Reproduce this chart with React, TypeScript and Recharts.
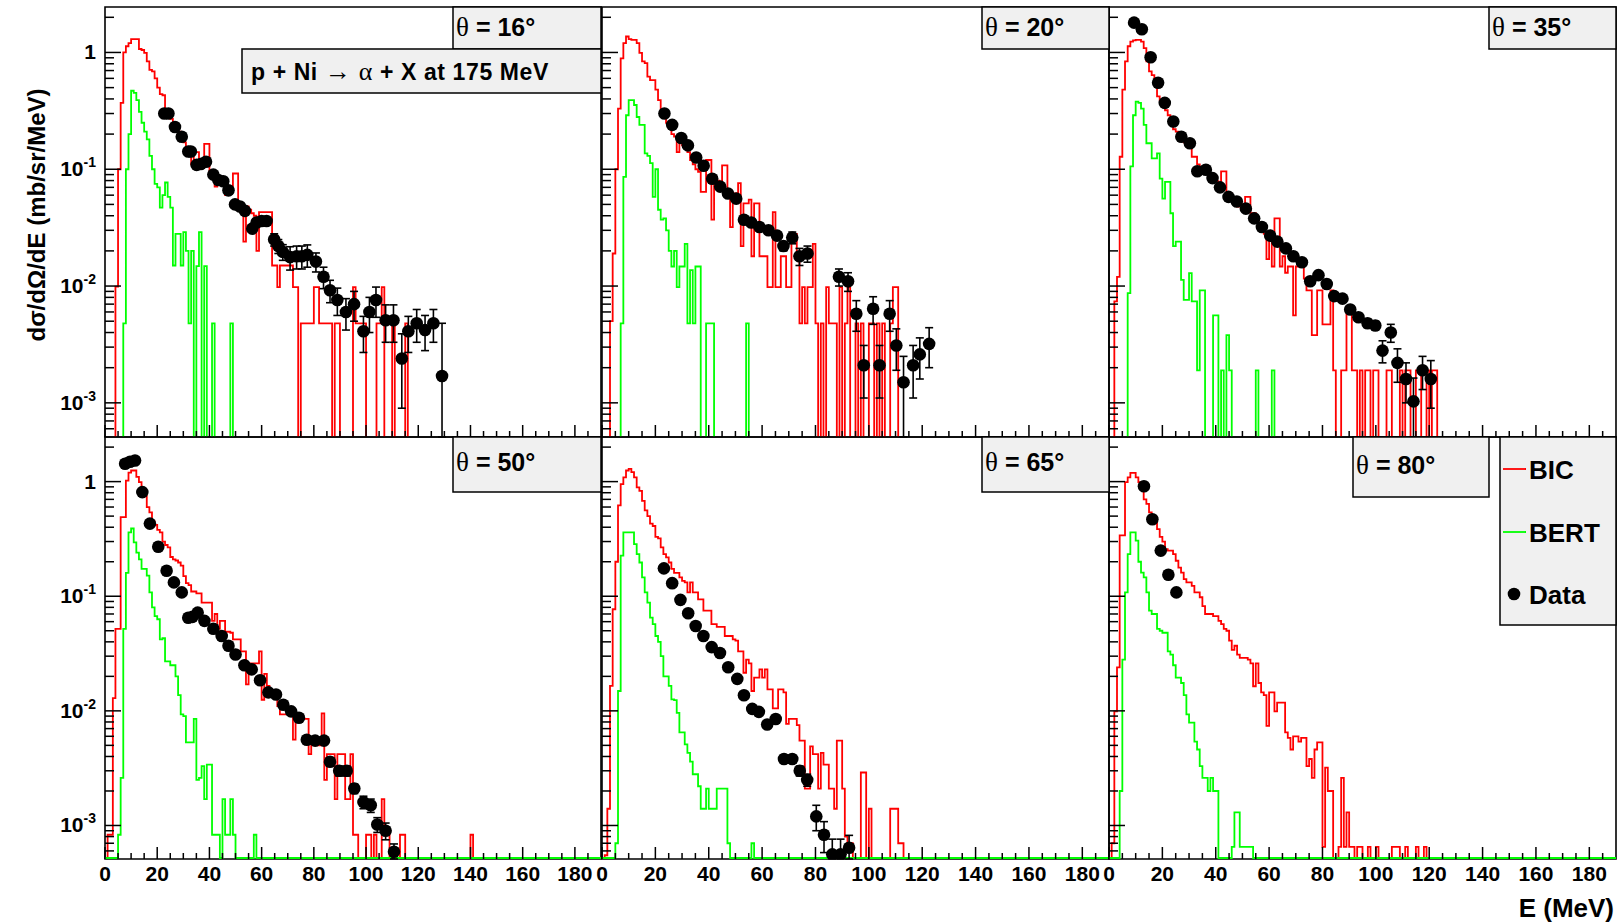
import React from 'react';
import { ComposedChart, Line, Scatter, XAxis, YAxis, ErrorBar, ReferenceArea } from 'recharts';

// ---------- axis ranges & ticks ----------
const YMIN = 5.1e-4;
const YMAX = 2.45;
const XMAX = 190;
const X_TICKS = [0,5,10,15,20,25,30,35,40,45,50,55,60,65,70,75,80,85,90,95,100,105,110,115,120,125,130,135,140,145,150,155,160,165,170,175,180,185];
const X_LABELS = [0,20,40,60,80,100,120,140,160,180];
const Y_TICKS = [0.0006,0.0007,0.0008,0.0009,0.001,0.002,0.003,0.004,0.005,0.006,0.007,0.008,0.009,0.01,0.02,0.03,0.04,0.05,0.06,0.07,0.08,0.09,0.1,0.2,0.3,0.4,0.5,0.6,0.7,0.8,0.9,1,2];
const Y_MAJOR = [0.001, 0.01, 0.1, 1];
const Y_MAJOR_EXP = ['-3', '-2', '-1', ''];

// ---------- histograms: value per 1 MeV bin starting at E = 0 ----------
const BIC_16 = [
  0,0,0,0,0.0099,0.1,0.37,1.0,1.13,1.2,
  1.3,1.3,1.3,1.07,1.05,0.99,0.84,0.71,0.69,0.6,
  0.5,0.44,0.43,0.32,0.3,0.27,0.25,0.22,0.21,0.19,
  0.17,0.155,0.13,0.11,0.14,0.14,0.11,0.12,0.165,0.165,
  0.093,0.093,0.071,0.075,0.075,0.072,0.06,0.066,0.066,0.092,
  0.092,0.05,0.048,0.024,0.048,0.045,0.042,0.04,0.02,0.043,
  0.043,0.043,0.043,0.043,0.015,0.015,0.0098,0.015,0.015,0.015,
  0.015,0.015,0.0098,0.0098,0,0.0048,0.0048,0.0048,0.0048,0.0048,
  0.0098,0.0098,0.0048,0.0048,0.0048,0.0048,0.0048,0,0.0048,0.0048,
  0,0,0,0,0,0.0098,0.0048,0.0048,0.0048,0.0048,
  0,0,0,0,0.0048,0.0048,0.0098,0,0,0,
  0.0048,0,0,0,0,0.0048,
];
const BERT_16 = [
  0,0,0,0,0,0,0,0.0048,0.1,0.2,
  0.47,0.45,0.39,0.31,0.25,0.21,0.18,0.13,0.1,0.075,
  0.07,0.047,0.06,0.077,0.058,0.047,0.015,0.028,0.028,0.015,
  0.029,0.02,0.0048,0.02,0,0.0148,0.029,0,0.0148,0,
  0,0.0048,0,0,0,0,0,0,0.0048,
];
const BIC_20 = [
  0,0,0,0.005,0.019,0.1,0.33,0.89,1.2,1.37,
  1.3,1.28,1.28,1.2,0.99,0.84,0.81,0.62,0.58,0.58,
  0.48,0.39,0.3,0.29,0.25,0.24,0.2,0.19,0.14,0.185,
  0.16,0.15,0.14,0.12,0.11,0.1,0.095,0.064,0.064,0.12,
  0.12,0.037,0.085,0.08,0.077,0.108,0.108,0.06,0.032,0.062,
  0.062,0.076,0.022,0.051,0.051,0.055,0.018,0.051,0.051,0.018,
  0.018,0.018,0.0098,0.0098,0.043,0.0098,0.0098,0.018,0.018,0.0098,
  0.0098,0.028,0.028,0.018,0.0048,0.0098,0.0048,0.0098,0.0098,0.023,
  0.0048,0,0.0048,0,0.0098,0.0048,0.0048,0.0048,0,0.0098,
  0,0.0048,0.0098,0,0,0.0048,0,0.0048,0,0,
  0.0048,0.0048,0,0.0048,0,0.0048,0,0,0.0048,0.0098,
  0.0098,
];
const BERT_20 = [
  0,0,0,0,0,0,0,0.0048,0.086,0.29,
  0.39,0.39,0.355,0.28,0.24,0.24,0.137,0.13,0.113,0.058,
  0.1,0.045,0.037,0.038,0.03,0.02,0.0147,0.02,0.0098,0.0147,
  0.0147,0.023,0.0048,0.0137,0.0048,0.0147,0.0147,0,0,0.0048,
  0.0048,0.0048,0,0,0,0,0,0,0,0,
  0,0,0,0,0.0048,
];
const BIC_35 = [
  0,0,0.0074,0.012,0.128,0.48,0.84,1.13,1.24,1.27,
  1.28,1.28,1.24,1.09,0.84,0.69,0.64,0.53,0.42,0.39,
  0.34,0.32,0.29,0.25,0.22,0.21,0.2,0.18,0.17,0.17,
  0.157,0.128,0.128,0.11,0.102,0.102,0.093,0.093,0.081,0.079,
  0.079,0.07,0.096,0.096,0.062,0.062,0.055,0.055,0.048,0.05,
  0.05,0.058,0.058,0.042,0.042,0.039,0.034,0.03,0.028,0.017,
  0.025,0.0147,0.038,0.038,0.0147,0.018,0.013,0.0147,0.0147,0.0056,
  0.0147,0.0147,0.0147,0.0116,0.0092,0.0092,0.0038,0.0038,0.0092,0.0092,
  0.0047,0.0047,0.0047,0.0092,0.0019,0,0,0.0019,0.0019,0.0058,
  0.0058,0.0019,0.0019,0,0.0019,0,0.0019,0.0019,0,0.0019,
  0.0019,0,0,0,0.0019,0.0019,0,0,0,0.0019,
  0,0.0019,0.0019,0,0,0.0019,0.0019,0,0,0.0019,
  0,0.0019,0.0019,
];
const BERT_35 = [
  0,0,0,0,0,0,0,0.0087,0.106,0.29,
  0.38,0.37,0.33,0.24,0.167,0.167,0.124,0.124,0.137,0.083,
  0.056,0.078,0.078,0.042,0.022,0.024,0.024,0.0113,0.0076,0.0076,
  0.0129,0.0074,0.0074,0.0019,0.0092,0.0092,0,0,0,0.0056,
  0.0056,0,0.0019,0,0.0038,0.0019,0,0,0,0,
  0,0,0,0,0,0.0019,0,0,0,0,
  0,0.0019,
];
const BIC_50 = [
  0,0.00083,0.00083,0.0129,0.052,0.052,0.49,0.49,1.02,1.2,
  1.25,1.25,1.1,0.99,0.78,0.75,0.6,0.54,0.45,0.42,
  0.38,0.36,0.3,0.28,0.267,0.22,0.21,0.205,0.197,0.185,
  0.15,0.13,0.125,0.11,0.11,0.106,0.106,0.088,0.088,0.088,
  0.088,0.061,0.07,0.052,0.061,0.061,0.049,0.049,0.048,0.042,
  0.042,0.042,0.033,0.033,0.017,0.026,0.026,0.026,0.026,0.033,
  0.0125,0.021,0.0165,0.0137,0.0137,0.0137,0.011,0.0093,0.0093,0.0093,
  0.0093,0.0093,0.0056,0.0093,0.009,0.009,0.0085,0.0085,0.0042,0.0057,
  0.0057,0.005,0.005,0.0095,0.0025,0.0042,0.0042,0.0042,0.0017,0.0042,
  0.0042,0.0042,0.0017,0.0017,0.0042,0.00083,0.00083,0,0,0,
  0.00083,0.00083,0,0.00083,0,0,0.0017,0.00083,0.00083,0,
  0,0,0,0.00083,0.00083,0,0,0,0,0,
  0,0,0,0,0,0,0,0,0,0,
  0,0,0,0,0,0,0,0,0,0,
  0.00083,
];
const BERT_50 = [
  0,0,0,0,0,0.00083,0.0026,0.052,0.16,0.36,
  0.39,0.295,0.24,0.21,0.173,0.173,0.151,0.108,0.08,0.067,
  0.063,0.042,0.043,0.027,0.027,0.025,0.025,0.02,0.0137,0.0093,
  0.009,0.0053,0.0053,0.0053,0.0085,0.0025,0.0026,0.0033,0.0017,0.0034,
  0.0034,0.00083,0.00083,0.00083,0,0.0017,0.00083,0.00083,0.0017,0.00083,
  0,0,0,0,0,0,0,0.00083,
];
const BIC_65 = [
  0,0.00055,0.0014,0.0165,0.077,0.2,0.62,0.95,1.09,1.25,
  1.29,1.21,1.09,0.89,0.83,0.68,0.56,0.5,0.43,0.41,
  0.33,0.32,0.267,0.233,0.218,0.197,0.173,0.16,0.16,0.146,
  0.136,0.132,0.108,0.132,0.108,0.108,0.094,0.094,0.075,0.075,
  0.075,0.057,0.057,0.054,0.054,0.054,0.045,0.045,0.045,0.042,
  0.041,0.033,0.033,0.0215,0.028,0.026,0.0149,0.0195,0.0195,0.023,
  0.0195,0.023,0.0154,0.0154,0.0105,0.0105,0.0154,0.0154,0.0145,0.0077,
  0.0085,0.0085,0.0085,0.0075,0.0055,0.0055,0.0021,0.0021,0.0049,0.0042,
  0.0042,0.0021,0.0043,0.0034,0.0034,0.0021,0.0021,0.0014,0.0055,0.0055,
  0.0021,0.0008,0.0007,0.0007,0,0,0,0.0029,0.0029,0,
  0.0014,0,0,0,0,0,0,0,0.0014,0.0014,
  0.0014,0.0007,0.0007,
];
const BERT_65 = [
  0,0,0,0,0,0.0007,0.0149,0.226,0.36,0.36,
  0.36,0.36,0.285,0.233,0.197,0.146,0.108,0.088,0.065,0.057,
  0.045,0.04,0.03,0.02,0.02,0.0165,0.0126,0.0124,0.0096,0.0065,
  0.0065,0.0051,0.0043,0.0036,0.0028,0.0028,0.0022,0.0014,0.0014,0.0021,
  0.0014,0.0014,0.0014,0.0021,0.0021,0.0021,0.0021,0.0007,0,0,
  0,0,0,0,0,0,0.0007,
];
const BIC_80 = [
  0,0.0007,0.0099,0.024,0.34,0.34,0.99,1.09,1.19,1.19,
  1.09,0.99,0.86,0.7,0.64,0.54,0.5,0.46,0.385,0.33,
  0.3,0.258,0.25,0.25,0.233,0.204,0.178,0.161,0.141,0.132,
  0.132,0.123,0.108,0.108,0.098,0.082,0.07,0.07,0.07,0.067,
  0.067,0.061,0.057,0.052,0.05,0.041,0.034,0.037,0.031,0.029,
  0.029,0.029,0.028,0.026,0.0164,0.026,0.0175,0.0145,0.0137,0.0074,
  0.0145,0.0145,0.0099,0.0118,0.0118,0.0118,0.0065,0.0058,0.0046,0.006,
  0.006,0.0054,0.0058,0.0058,0.0033,0.0038,0.0026,0.0046,0.0053,0.0053,
  0.00065,0.0032,0.002,0.002,0,0,0.00065,0.0026,0.00065,0.0013,
  0.00065,0.00065,0,0.00065,0.00065,0,0,0.00065,0,0,
  0.00065,0,0,0,0,0,0.00065,0.00065,0.00065,0,
  0,0.00065,0,0,0,0.00065,0,0,0.00065,
];
const BERT_80 = [
  0,0,0,0,0.002,0.028,0.108,0.233,0.36,0.36,
  0.305,0.2,0.161,0.146,0.108,0.075,0.07,0.07,0.052,0.05,
  0.048,0.048,0.033,0.031,0.025,0.0195,0.0195,0.0175,0.0137,0.0093,
  0.0079,0.0079,0.0054,0.0046,0.0033,0.0026,0.0026,0.002,0.0026,0.002,
  0.002,0,0,0,0,0,0.00065,0.0013,0.0013,0.00065,
  0.00065,0.00065,0.00065,0.00065,
];

// ---------- measured data: energy, cross section, uncertainty ----------
const DATA16_E = [22.7,24.3,26.8,29.4,31.9,32.9,35.1,36.7,38.7,41.5,43.4,45.3,47.3,49.8,51.7,53.6,56.4,58.1,60.0,61.9,64.8,66.4,68.1,70.9,73.4,75.4,77.5,80.8,83.7,86.2,89.0,92.3,95.4,99.0,101.3,103.8,107.5,110.5,113.7,116.2,119.4,122.6,125.8,129.1];
const DATA16_V = [0.30,0.30,0.23,0.19,0.142,0.142,0.109,0.111,0.116,0.09,0.081,0.079,0.066,0.05,0.048,0.044,0.031,0.035,0.036,0.036,0.025,0.022,0.0196,0.0177,0.018,0.018,0.0185,0.0162,0.012,0.0092,0.0076,0.006,0.007,0.0041,0.006,0.0076,0.0051,0.0051,0.0024,0.0041,0.0048,0.0042,0.0048,0.0017];
const DATA16_ERR = [0.012,0.012,0.009,0.008,0.006,0.006,0.004,0.004,0.005,0.004,0.0035,0.0035,0.003,0.0025,0.0025,0.0025,0.002,0.002,0.0025,0.0025,0.003,0.003,0.003,0.004,0.004,0.004,0.004,0.003,0.0025,0.002,0.002,0.0018,0.002,0.0014,0.002,0.0022,0.0018,0.0018,0.0015,0.0014,0.0015,0.0014,0.0015,0.0031];

const DATA20_E = [23.4,26.3,29.7,32.2,35.3,38.1,41.3,44.3,47.2,50.3,53.2,55.9,59.0,62.4,65.6,68.0,71.3,74.0,77.0,88.8,92.2,95.3,98.1,101.6,104.0,107.8,110.3,113.0,116.6,119.1,122.6];
const DATA20_V = [0.30,0.24,0.185,0.16,0.126,0.107,0.083,0.071,0.062,0.056,0.037,0.035,0.032,0.030,0.027,0.022,0.026,0.018,0.019,0.012,0.011,0.0058,0.0021,0.0064,0.0021,0.0058,0.0031,0.0015,0.0021,0.0026,0.0032];
const DATA20_ERR = [0.012,0.01,0.007,0.006,0.005,0.004,0.003,0.003,0.0025,0.0025,0.002,0.002,0.002,0.002,0.002,0.002,0.003,0.003,0.003,0.002,0.002,0.0017,0.001,0.0017,0.001,0.0017,0.0012,0.001,0.001,0.001,0.0012];

const DATA35_E = [9.4,12.3,15.6,18.4,20.9,24.1,27.1,30.3,33.1,36.3,38.8,41.6,44.8,47.9,51.3,54.4,57.3,60.4,63.1,66.3,69.1,72.3,75.4,78.5,81.6,84.4,87.5,90.4,93.5,96.9,99.8,102.5,105.6,108.1,111.3,114.1,117.5,120.6];
const DATA35_V = [1.8,1.58,0.91,0.55,0.37,0.256,0.19,0.167,0.096,0.099,0.084,0.07,0.058,0.053,0.046,0.038,0.032,0.027,0.024,0.021,0.018,0.016,0.011,0.0124,0.0104,0.0082,0.0078,0.0063,0.0054,0.0048,0.0046,0.0028,0.004,0.0022,0.0016,0.00103,0.0019,0.0016];
const DATA35_ERR = [0.07,0.06,0.035,0.02,0.014,0.01,0.007,0.006,0.004,0.004,0.003,0.003,0.0025,0.002,0.002,0.0015,0.0013,0.0011,0.001,0.0009,0.0008,0.0007,0.0005,0.0006,0.0005,0.0004,0.0004,0.0004,0.0004,0.0004,0.0004,0.0006,0.0007,0.0007,0.0006,0.0006,0.0006,0.0007];

const DATA50_E = [7.7,9.6,11.5,14.3,17.2,20.4,23.6,26.4,29.4,31.9,33.5,35.5,38.1,41.5,44.7,47.3,50.0,53.4,56.2,59.4,62.6,65.5,68.3,71.3,74.3,77.3,80.5,83.9,86.2,89.7,92.6,95.5,99.0,101.8,104.3,107.5,110.7];
const DATA50_V = [1.43,1.49,1.53,0.81,0.43,0.27,0.167,0.132,0.108,0.065,0.066,0.072,0.061,0.052,0.045,0.037,0.031,0.025,0.023,0.0185,0.0145,0.0139,0.0113,0.0099,0.0087,0.0056,0.0055,0.0055,0.0036,0.003,0.003,0.0021,0.0016,0.0015,0.00102,0.0009,0.00059];
const DATA50_ERR = [0.06,0.06,0.06,0.03,0.017,0.011,0.007,0.005,0.004,0.0026,0.0026,0.003,0.0025,0.002,0.0018,0.0015,0.0012,0.001,0.0009,0.0007,0.0006,0.0006,0.0005,0.0004,0.0004,0.0003,0.0003,0.0003,0.0003,0.0003,0.0003,0.0002,0.0002,0.0002,0.00015,0.00015,0.0001];

const DATA65_E = [23.2,26.3,29.4,32.3,35.1,38.0,41.1,44.2,47.3,50.7,53.2,56.3,58.8,61.9,65.1,68.2,71.3,74.1,76.9,80.3,83.2,86.3,89.4,92.6];
const DATA65_V = [0.175,0.13,0.093,0.071,0.055,0.045,0.036,0.032,0.024,0.019,0.0137,0.0104,0.0098,0.0076,0.0085,0.0038,0.0038,0.003,0.0025,0.0012,0.00083,0.00056,0.00056,0.00064];
const DATA65_ERR = [0.007,0.005,0.004,0.003,0.0022,0.0018,0.0015,0.0013,0.001,0.0008,0.0006,0.0005,0.0004,0.0004,0.0004,0.0003,0.0003,0.0003,0.0003,0.0003,0.00025,0.0002,0.0002,0.00018];

const DATA80_E = [13.1,16.25,19.4,22.25,25.25];
const DATA80_V = [0.91,0.47,0.25,0.154,0.108];
const DATA80_ERR = [0.04,0.02,0.01,0.006,0.004];

const ANGLES = ['16', '20', '35', '50', '65', '80'];
const SERIES_NAMES = ['BIC', 'BERT', 'Data'];
const REACTION = ['p + Ni', '\u2192', '\u03b1', '+ X at 175 MeV'];

// ---------- layout ----------
const FONT = "'Liberation Sans', Arial, Helvetica, sans-serif";
const SYM = "'Liberation Serif', 'DejaVu Serif', serif";
const RED = '#ff0000';
const GREEN = '#00ff00';
const COL_X = [105, 602, 1109];
const COL_W = [496, 507, 507];
const ROW_Y = [7, 437];
const ROW_H = [430, 422];
const PADL = 100, PADT = 10, PADR = 10, PADB = 60;

const PANELS = [
  { row: 0, col: 0, bic: BIC_16, bert: BERT_16, e: DATA16_E, v: DATA16_V, err: DATA16_ERR },
  { row: 0, col: 1, bic: BIC_20, bert: BERT_20, e: DATA20_E, v: DATA20_V, err: DATA20_ERR },
  { row: 0, col: 2, bic: BIC_35, bert: BERT_35, e: DATA35_E, v: DATA35_V, err: DATA35_ERR },
  { row: 1, col: 0, bic: BIC_50, bert: BERT_50, e: DATA50_E, v: DATA50_V, err: DATA50_ERR },
  { row: 1, col: 1, bic: BIC_65, bert: BERT_65, e: DATA65_E, v: DATA65_V, err: DATA65_ERR },
  { row: 1, col: 2, bic: BIC_80, bert: BERT_80, e: DATA80_E, v: DATA80_V, err: DATA80_ERR },
];

const ANGLE_BOXES = [
  { x: 453, y: 7, w: 148, h: 42, ty: 36 },
  { x: 982, y: 7, w: 127, h: 42, ty: 36 },
  { x: 1489, y: 7, w: 127, h: 42, ty: 36 },
  { x: 453, y: 437, w: 148, h: 55, ty: 471 },
  { x: 982, y: 437, w: 127, h: 55, ty: 471 },
  { x: 1353, y: 437, w: 136, h: 60, ty: 474 },
];

function toSteps(bins: number[], zero: number) {
  const out: { x: number; y: number }[] = [];
  for (let i = 0; i < XMAX; i++) {
    const v = i < bins.length ? bins[i] : 0;
    out.push({ x: i, y: v > 0 ? v : zero });
  }
  out.push({ x: XMAX, y: out[out.length - 1].y });
  return out;
}

function toPoints(e: number[], v: number[], err: number[]) {
  return e.map((x, i) => {
    const lo = Math.min(err[i], v[i] - YMIN * 1.001);
    return { x, y: v[i], err: [lo, err[i]] };
  });
}

function makeXTick(plotBottom: number, showLabels: boolean) {
  return (props: any) => {
    const { x, payload } = props;
    const val = payload.value;
    const major = val % 20 === 0;
    const len = major ? 12 : 6;
    return (
      <g>
        <line x1={x} x2={x} y1={plotBottom} y2={plotBottom - len} stroke="#000" strokeWidth={1.5} />
        {showLabels && X_LABELS.indexOf(val) >= 0 ? (
          <text x={x} y={plotBottom + 22} textAnchor="middle" fontFamily={FONT} fontWeight="bold" fontSize={21} fill="#000">
            {String(val)}
          </text>
        ) : null}
      </g>
    );
  };
}

function makeYTick(plotLeft: number, showLabels: boolean) {
  return (props: any) => {
    const { y, payload } = props;
    const val = payload.value;
    const idx = Y_MAJOR.indexOf(val);
    const len = idx >= 0 ? 16 : 9;
    let label: any = null;
    if (showLabels && idx >= 0) {
      const exp = Y_MAJOR_EXP[idx];
      label = (
        <text x={plotLeft - 9} y={y + 7} textAnchor="end" fontFamily={FONT} fontWeight="bold" fontSize={21} fill="#000">
          {exp === '' ? '1' : (
            <>
              <tspan>10</tspan>
              <tspan dy={-9} fontSize={14}>{exp}</tspan>
            </>
          )}
        </text>
      );
    }
    return (
      <g>
        <line x1={plotLeft} x2={plotLeft + len} y1={y} y2={y} stroke="#000" strokeWidth={1.5} />
        {label}
      </g>
    );
  };
}

function Panel({ p }: { p: any }) {
  const w = COL_W[p.col];
  const h = ROW_H[p.row];
  const zero = p.row === 1 ? YMIN * 1.02 : YMIN / 5;
  const bic = toSteps(p.bic, zero);
  const bert = toSteps(p.bert, zero);
  const pts = toPoints(p.e, p.v, p.err);
  const plotBottom = PADT + h;
  return (
    <div style={{ position: 'absolute', left: COL_X[p.col] - PADL, top: ROW_Y[p.row] - PADT }}>
      <ComposedChart width={w + PADL + PADR} height={h + PADT + PADB} margin={{ top: PADT, right: PADR, bottom: 0, left: 0 }}>
        <XAxis type="number" dataKey="x" domain={[0, XMAX]} ticks={X_TICKS} interval={0} allowDataOverflow height={PADB}
          tickLine={false} axisLine={false} tick={makeXTick(plotBottom, p.row === 1)} />
        <YAxis type="number" dataKey="y" scale="log" domain={[YMIN, YMAX]} ticks={Y_TICKS} interval={0} allowDataOverflow width={PADL}
          tickLine={false} axisLine={false} tick={makeYTick(PADL, p.col === 0)} />
        <ReferenceArea x1={0} x2={XMAX} y1={YMIN} y2={YMAX} fill="#ffffff" fillOpacity={0} stroke="#000" strokeWidth={1.6} ifOverflow="visible" />
        <Line data={bic} dataKey="y" type="stepAfter" stroke={RED} strokeWidth={1.8} dot={false} activeDot={false} isAnimationActive={false} />
        <Line data={bert} dataKey="y" type="stepAfter" stroke={GREEN} strokeWidth={1.8} dot={false} activeDot={false} isAnimationActive={false} />
        <Scatter data={pts} dataKey="y" isAnimationActive={false}
          shape={(s: any) => <circle cx={s.cx} cy={s.cy} r={6.3} fill="#000" />}>
          <ErrorBar dataKey="err" direction="y" width={4} stroke="#000" strokeWidth={1.6} />
        </Scatter>
      </ComposedChart>
    </div>
  );
}

function Overlay() {
  const boxStyle = { fill: '#f0f0f0', stroke: '#000', strokeWidth: 1.5 };
  return (
    <svg width={1624} height={922} style={{ position: 'absolute', left: 0, top: 0, pointerEvents: 'none' }}>
      <text transform="translate(45,215) rotate(-90)" textAnchor="middle" fontFamily={FONT} fontWeight="bold" fontSize={24} fill="#000">
        d{'\u03c3'}/d{'\u03a9'}/dE (mb/sr/MeV)
      </text>
      <text x={1614} y={917} textAnchor="end" fontFamily={FONT} fontWeight="bold" fontSize={26} fill="#000">E (MeV)</text>

      {ANGLE_BOXES.map((b, i) => (
        <g key={i}>
          <rect x={b.x} y={b.y} width={b.w} height={b.h} {...boxStyle} />
          <text x={b.x + 3} y={b.ty} fontFamily={FONT} fontWeight="bold" fontSize={25} fill="#000">
            <tspan fontFamily={SYM} fontWeight="normal" fontSize={27}>{'\u03b8'}</tspan>
            <tspan>{` = ${ANGLES[i]}\u00b0`}</tspan>
          </text>
        </g>
      ))}

      <rect x={242} y={49} width={359} height={44} {...boxStyle} />
      <text x={251} y={80} fontFamily={FONT} fontWeight="bold" fontSize={23} letterSpacing={0.6} fill="#000">
        <tspan>{REACTION[0]}</tspan>
        <tspan fontFamily={SYM} fontWeight="normal" fontSize={26}>{` ${REACTION[1]} ${REACTION[2]} `}</tspan>
        <tspan>{REACTION[3]}</tspan>
      </text>

      <rect x={1500} y={437} width={116} height={188} {...boxStyle} />
      <line x1={1503} x2={1526} y1={469} y2={469} stroke={RED} strokeWidth={1.8} />
      <text x={1529} y={479} fontFamily={FONT} fontWeight="bold" fontSize={26} fill="#000">{SERIES_NAMES[0]}</text>
      <line x1={1503} x2={1526} y1={532} y2={532} stroke={GREEN} strokeWidth={1.8} />
      <text x={1529} y={542} fontFamily={FONT} fontWeight="bold" fontSize={26} fill="#000">{SERIES_NAMES[1]}</text>
      <circle cx={1514} cy={594} r={6.3} fill="#000" />
      <text x={1529} y={604} fontFamily={FONT} fontWeight="bold" fontSize={26} fill="#000">{SERIES_NAMES[2]}</text>
    </svg>
  );
}

export default function App() {
  return (
    <div style={{ position: 'absolute', left: 0, top: 0, width: 1624, height: 922, background: '#fff' }}>
      {PANELS.map((p, i) => <Panel key={i} p={p} />)}
      <Overlay />
    </div>
  );
}
